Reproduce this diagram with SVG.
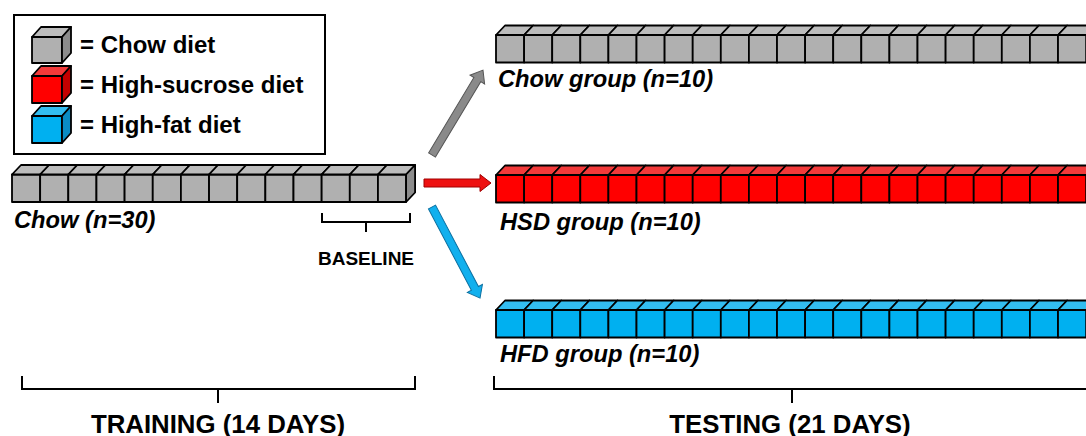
<svg xmlns="http://www.w3.org/2000/svg" xmlns:xlink="http://www.w3.org/1999/xlink" width="1086" height="436" viewBox="0 0 1086 436">
<style>
text{font-family:"Liberation Sans",Arial,sans-serif;font-weight:bold;fill:#000}
.lab{font-size:23.7px;font-style:italic}
.leg{font-size:24px}
.big{font-size:25.8px}
.cb{stroke:#000;stroke-width:1.8;stroke-linejoin:round}
.br{fill:none;stroke:#000;stroke-width:2}
.gF{fill:#b0b0b0}.gT{fill:#bcbcbc}.gS{fill:#8c8c8c}
.rF{fill:#ff0000}.rT{fill:#f23a3a}.rS{fill:#c40000}
.bF{fill:#00b0f0}.bT{fill:#33bdf0}.bS{fill:#0a8cc4}
</style>
<defs>
<g id="cg"><rect class="cb gF" x="0" y="0" width="28.15" height="27.5"/><polygon class="cb gT" points="0,0 9,-9.5 37.15,-9.5 28.15,0"/></g>
<g id="cr"><rect class="cb rF" x="0" y="0" width="28.15" height="27.5"/><polygon class="cb rT" points="0,0 9,-9.5 37.15,-9.5 28.15,0"/></g>
<g id="cbl"><rect class="cb bF" x="0" y="0" width="28.15" height="27.5"/><polygon class="cb bT" points="0,0 9,-9.5 37.15,-9.5 28.15,0"/></g>
</defs>

<g id="legend">
<rect x="14" y="15" width="311" height="139" fill="#fff" stroke="#000" stroke-width="2"/>
<rect class="cb gF" x="32" y="37" width="30" height="26"/>
<polygon class="cb gT" points="32,37 41,27 71,27 62,37"/>
<polygon class="cb gS" points="62,37 71,27 71,53 62,63"/>
<rect class="cb rF" x="32" y="76" width="30" height="27"/>
<polygon class="cb rT" points="32,76 41,66 71,66 62,76"/>
<polygon class="cb rS" points="62,76 71,66 71,93 62,103"/>
<rect class="cb bF" x="32" y="116" width="30" height="27"/>
<polygon class="cb bT" points="32,116 41,106 71,106 62,116"/>
<polygon class="cb bS" points="62,116 71,106 71,133 62,143"/>
<text class="leg" x="80" y="53">= Chow diet</text>
<text class="leg" x="80" y="93">= High-sucrose diet</text>
<text class="leg" x="80" y="133">= High-fat diet</text>
</g>

<g id="training">
<g transform="translate(12,174.5)">
<use xlink:href="#cg" x="0"/><use xlink:href="#cg" x="28.15"/><use xlink:href="#cg" x="56.3"/><use xlink:href="#cg" x="84.45"/><use xlink:href="#cg" x="112.6"/><use xlink:href="#cg" x="140.75"/><use xlink:href="#cg" x="168.9"/><use xlink:href="#cg" x="197.05"/><use xlink:href="#cg" x="225.2"/><use xlink:href="#cg" x="253.35"/><use xlink:href="#cg" x="281.5"/><use xlink:href="#cg" x="309.65"/><use xlink:href="#cg" x="337.8"/><use xlink:href="#cg" x="365.95"/>
<polygon class="cb gS" points="394.1,0 403.1,-9.5 403.1,18 394.1,27.5"/>
</g>
<text class="lab" x="14" y="227.5">Chow (n=30)</text>
<path class="br" d="M322,213 V222 H410 V213 M366,222 V232"/>
<text x="366" y="265" text-anchor="middle" style="font-size:19px">BASELINE</text>
</g>

<g id="chow-group">
<g transform="translate(496,35)">
<use xlink:href="#cg" x="0"/><use xlink:href="#cg" x="28.1"/><use xlink:href="#cg" x="56.2"/><use xlink:href="#cg" x="84.3"/><use xlink:href="#cg" x="112.4"/><use xlink:href="#cg" x="140.5"/><use xlink:href="#cg" x="168.6"/><use xlink:href="#cg" x="196.7"/><use xlink:href="#cg" x="224.8"/><use xlink:href="#cg" x="252.9"/><use xlink:href="#cg" x="281"/><use xlink:href="#cg" x="309.1"/><use xlink:href="#cg" x="337.2"/><use xlink:href="#cg" x="365.3"/><use xlink:href="#cg" x="393.4"/><use xlink:href="#cg" x="421.5"/><use xlink:href="#cg" x="449.6"/><use xlink:href="#cg" x="477.7"/><use xlink:href="#cg" x="505.8"/><use xlink:href="#cg" x="533.9"/><use xlink:href="#cg" x="562"/>
</g>
<text class="lab" x="498" y="86.5">Chow group (n=10)</text>
</g>

<g id="hsd-group">
<g transform="translate(496,175)">
<use xlink:href="#cr" x="0"/><use xlink:href="#cr" x="28.1"/><use xlink:href="#cr" x="56.2"/><use xlink:href="#cr" x="84.3"/><use xlink:href="#cr" x="112.4"/><use xlink:href="#cr" x="140.5"/><use xlink:href="#cr" x="168.6"/><use xlink:href="#cr" x="196.7"/><use xlink:href="#cr" x="224.8"/><use xlink:href="#cr" x="252.9"/><use xlink:href="#cr" x="281"/><use xlink:href="#cr" x="309.1"/><use xlink:href="#cr" x="337.2"/><use xlink:href="#cr" x="365.3"/><use xlink:href="#cr" x="393.4"/><use xlink:href="#cr" x="421.5"/><use xlink:href="#cr" x="449.6"/><use xlink:href="#cr" x="477.7"/><use xlink:href="#cr" x="505.8"/><use xlink:href="#cr" x="533.9"/><use xlink:href="#cr" x="562"/>
</g>
<text class="lab" x="500" y="230">HSD group (n=10)</text>
</g>

<g id="hfd-group">
<g transform="translate(496,310)">
<use xlink:href="#cbl" x="0"/><use xlink:href="#cbl" x="28.1"/><use xlink:href="#cbl" x="56.2"/><use xlink:href="#cbl" x="84.3"/><use xlink:href="#cbl" x="112.4"/><use xlink:href="#cbl" x="140.5"/><use xlink:href="#cbl" x="168.6"/><use xlink:href="#cbl" x="196.7"/><use xlink:href="#cbl" x="224.8"/><use xlink:href="#cbl" x="252.9"/><use xlink:href="#cbl" x="281"/><use xlink:href="#cbl" x="309.1"/><use xlink:href="#cbl" x="337.2"/><use xlink:href="#cbl" x="365.3"/><use xlink:href="#cbl" x="393.4"/><use xlink:href="#cbl" x="421.5"/><use xlink:href="#cbl" x="449.6"/><use xlink:href="#cbl" x="477.7"/><use xlink:href="#cbl" x="505.8"/><use xlink:href="#cbl" x="533.9"/><use xlink:href="#cbl" x="562"/>
</g>
<text class="lab" x="500" y="362">HFD group (n=10)</text>
</g>

<g id="connectors">
<path transform="translate(432,155) rotate(-59)" d="M0,-4 L88,-4 L88,-8.5 L99,0 L88,8.5 L88,4 L0,4 Z" fill="#8a8a8a" stroke="#555" stroke-width="1"/>
<path transform="translate(424,183)" d="M0,-4 L56,-4 L56,-8.5 L67,0 L56,8.5 L56,4 L0,4 Z" fill="#ee1111" stroke="#a00000" stroke-width="1"/>
<path transform="translate(432,207) rotate(62.2)" d="M0,-4 L92,-4 L92,-8.5 L103,0 L92,8.5 L92,4 L0,4 Z" fill="#11b0ee" stroke="#0a6fa0" stroke-width="1"/>
</g>

<g id="phases">
<path class="br" d="M22,376 V389 H415 V376 M218,389 V403"/>
<text class="big" x="218" y="433" text-anchor="middle">TRAINING (14 DAYS)</text>
<path class="br" d="M494,376 V389 H1090 M792,389 V403"/>
<text class="big" x="790" y="433" text-anchor="middle">TESTING (21 DAYS)</text>
</g>
</svg>
